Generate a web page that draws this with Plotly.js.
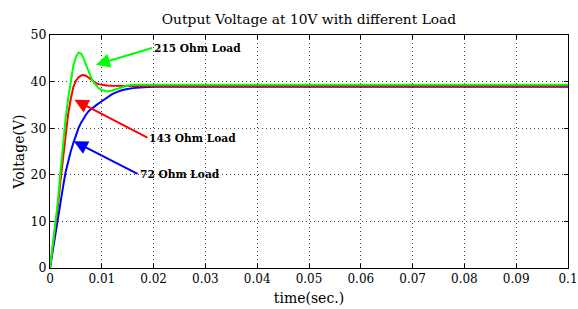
<!DOCTYPE html>
<html>
<head>
<meta charset="utf-8">
<script src="https://cdn.plot.ly/plotly-3.0.1.min.js"></script>
<style>html,body{margin:0;padding:0;background:#fff;}#chart{width:578px;height:309px;}</style>
</head>
<body>
<div id="chart"></div>
<script>
const time = [0, 0.0005, 0.001, 0.0015, 0.002, 0.0025, 0.003, 0.0035, 0.004, 0.0045, 0.005, 0.0055, 0.006, 0.0065, 0.007, 0.0075, 0.008, 0.0085, 0.009, 0.0095, 0.01, 0.0105, 0.011, 0.012, 0.013, 0.014, 0.015, 0.016, 0.018, 0.02, 0.025, 0.03, 0.04, 0.05, 0.06, 0.07, 0.08, 0.09, 0.1];
const v215 = [0, 4.5, 8.5, 14, 20.3, 26.5, 32, 36.3, 40.2, 43.3, 45.3, 46.2, 46.0, 45.0, 43.5, 42.0, 40.7, 39.7, 39.0, 38.5, 38.2, 38.0, 37.9, 38.1, 38.5, 38.9, 39.15, 39.3, 39.35, 39.35, 39.35, 39.35, 39.35, 39.35, 39.35, 39.35, 39.35, 39.35, 39.35];
const v143 = [0, 4.2, 8.2, 13, 18.5, 23.8, 29, 33, 36.2, 38.8, 40.2, 40.9, 41.3, 41.4, 41.2, 40.8, 40.3, 39.9, 39.6, 39.4, 39.3, 39.2, 39.15, 39.1, 39.05, 39.05, 39.05, 39.05, 39.05, 39.05, 39.05, 39.05, 39.05, 39.05, 39.05, 39.05, 39.05, 39.05, 39.05];
const v72 = [0, 3.6, 7.2, 10.7, 14.2, 17.3, 20.5, 23.0, 25.0, 26.8, 28.6, 30.0, 31.2, 32.2, 33.0, 33.7, 34.2, 34.6, 35.0, 35.4, 35.8, 36.2, 36.6, 37.3, 37.8, 38.2, 38.4, 38.6, 38.8, 38.9, 38.9, 38.9, 38.9, 38.9, 38.9, 38.9, 38.9, 38.9, 38.9];
const seriesNames = ['215 Ohm Load', '143 Ohm Load', '72 Ohm Load'];
const seriesColors = ['#00ff00', '#ff0000', '#0000ff'];
const labelTail = [[0.0197, 47.2], [0.0188, 28.0], [0.0169, 20.2]];
const labelTip = [[0.00888, 43.6], [0.00471, 36.1], [0.00458, 27.2]];
const xTicks = [0, 0.01, 0.02, 0.03, 0.04, 0.05, 0.06, 0.07, 0.08, 0.09, 0.1];
const xTickText = ['0', '0.01', '0.02', '0.03', '0.04', '0.05', '0.06', '0.07', '0.08', '0.09', '0.1'];
const yTicks = [0, 10, 20, 30, 40, 50];

const font = 'DejaVu Serif, Liberation Serif, serif';
const seriesValues = [v215, v143, v72];
const order = [2, 1, 0];
const traces = order.map(i => ({
  x: time, y: seriesValues[i], type: 'scatter', mode: 'lines',
  name: seriesNames[i], line: {color: seriesColors[i], width: 2}
}));

const annotations = seriesNames.map((n, i) => ({
  x: labelTip[i][0], y: labelTip[i][1], xref: 'x', yref: 'y',
  ax: labelTail[i][0], ay: labelTail[i][1], axref: 'x', ayref: 'y',
  text: n, showarrow: true, xanchor: 'left', yanchor: 'middle',
  arrowcolor: seriesColors[i], arrowwidth: 2, arrowhead: 2, arrowsize: 1.4,
  font: {family: 'DejaVu Serif Condensed, DejaVu Serif, serif', size: 11.8, weight: 'bold', color: '#000'}
}));

const axisCommon = {
  showline: true, linecolor: '#000', linewidth: 1, mirror: 'ticks',
  ticks: 'inside', ticklen: 4, tickcolor: '#000',
  showgrid: true, gridcolor: '#444', gridwidth: 1, griddash: '1px,3px',
  zeroline: false, ticklabeloverflow: 'allow'
};

const layout = {
  width: 578, height: 309,
  margin: {l: 50, r: 10, t: 35, b: 41},
  paper_bgcolor: '#fff', plot_bgcolor: '#fff',
  showlegend: false,
  title: {text: 'Output Voltage at 10V with different Load', font: {family: font, size: 13.8, color: '#000'}, xref: 'paper', x: 0.5, xanchor: 'center', y: 0.937, yanchor: 'middle'},
  xaxis: Object.assign({}, axisCommon, {
    range: [0, 0.1], tickvals: xTicks, ticktext: xTickText,
    tickfont: {family: font, size: 12, color: '#000'},
    title: {text: 'time(sec.)', font: {family: font, size: 14, color: '#000'}, standoff: 7}
  }),
  yaxis: Object.assign({}, axisCommon, {
    range: [0, 50], tickvals: yTicks,
    tickfont: {family: font, size: 12.5, color: '#000'},
    title: {text: 'Voltage(V)', font: {family: font, size: 14, color: '#000'}, standoff: 2}
  }),
  annotations: annotations
};

Plotly.newPlot('chart', traces, layout, {staticPlot: true, displayModeBar: false});
</script>
</body>
</html>
